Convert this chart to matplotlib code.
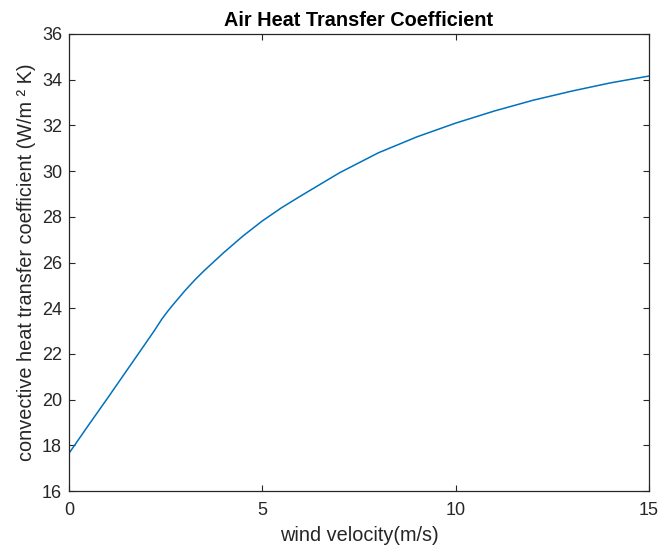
import matplotlib
matplotlib.use("Agg")
import matplotlib.pyplot as plt

# Data
wind_velocity = [0, 0.5, 1, 1.5, 2, 2.2, 2.4, 2.55, 2.7, 2.85, 3, 3.25, 3.5, 4, 4.5, 5, 5.5, 6, 7, 8, 9, 10, 11, 12, 13, 14, 15]
h_conv = [17.65, 18.87, 20.07, 21.29, 22.51, 23.0, 23.52, 23.86, 24.17, 24.47, 24.77, 25.23, 25.65, 26.43, 27.16, 27.82, 28.4,
          28.92, 29.93, 30.8, 31.5, 32.1, 32.63, 33.1, 33.5, 33.86, 34.16]

x_ticks = [0, 5, 10, 15]
y_ticks = [16, 18, 20, 22, 24, 26, 28, 30, 32, 34, 36]

plt.rcParams['font.family'] = ['Liberation Sans', 'DejaVu Sans']

W, H = 659, 548
fig = plt.figure(figsize=(W / 100, H / 100), dpi=100)
ax = fig.add_axes([69 / W, (H - 491) / H, (649 - 69) / W, (491 - 34) / H])

ax.plot(wind_velocity, h_conv, color='#0072BD', linewidth=1.1)

ax.set_xlim(0, 15)
ax.set_ylim(16, 36)
ax.set_xticks(x_ticks)
ax.set_yticks(y_ticks)

axc = '#262626'
for s in ax.spines.values():
    s.set_color(axc)
    s.set_linewidth(0.9)
ax.tick_params(direction='in', length=4, width=0.8, color=axc, labelcolor=axc,
               labelsize=13, top=True, right=True)
ax.tick_params(axis='x', pad=8)
ax.tick_params(axis='y', pad=5)

ax.set_title('Air Heat Transfer Coefficient', fontsize=14.3, fontweight='bold', pad=6)
ax.set_xlabel('wind velocity(m/s)', fontsize=14.3, color=axc, labelpad=5)
ax.set_ylabel('convective heat transfer coefficient (W/m ² K)', fontsize=14.3, color=axc, labelpad=4)

fig.savefig('out.png', dpi=100)
